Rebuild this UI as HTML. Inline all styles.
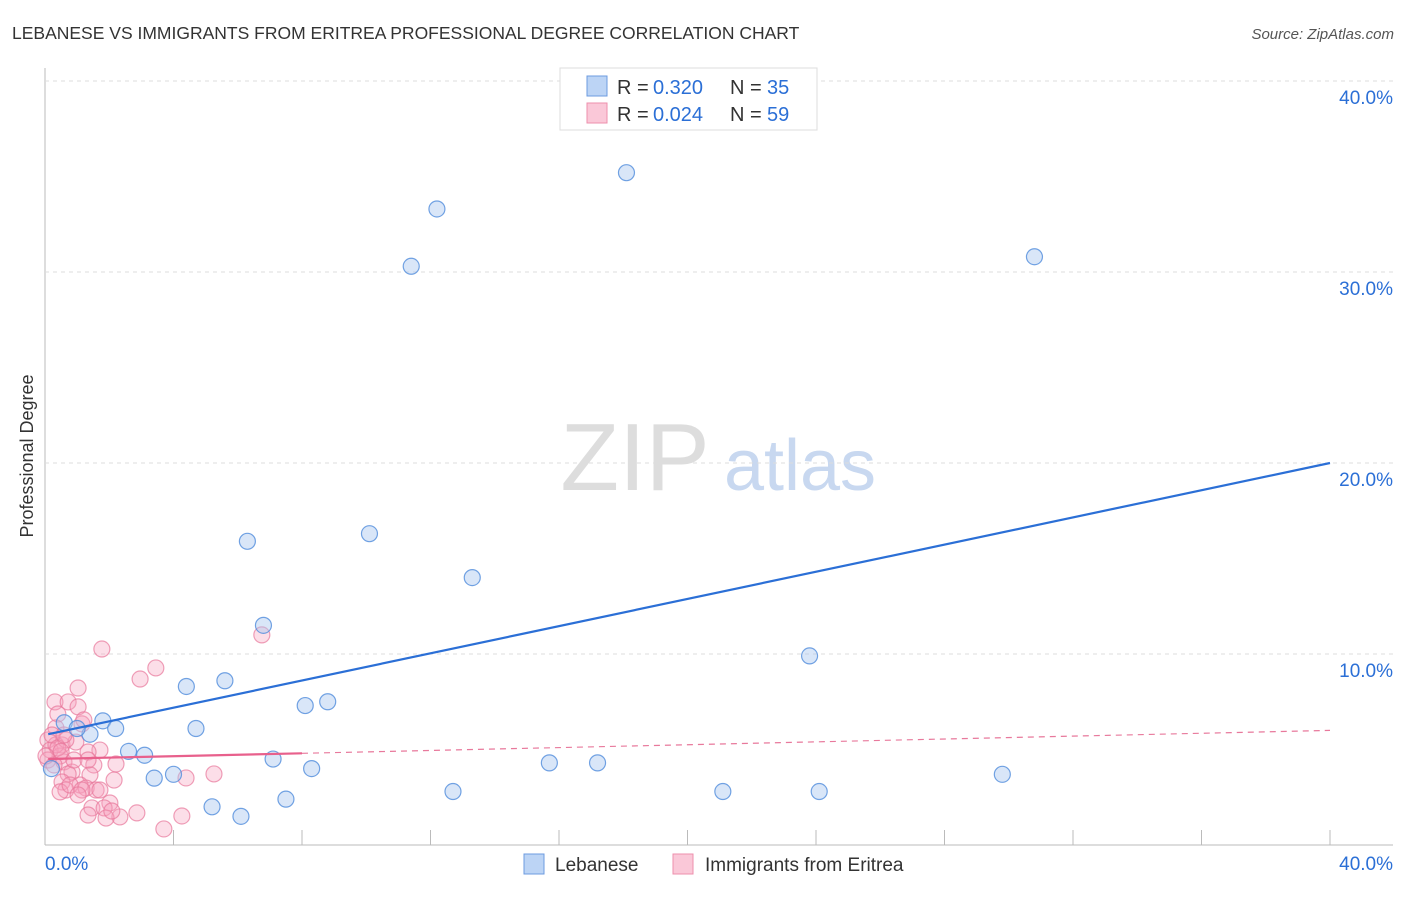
<!DOCTYPE html>
<html><head><meta charset="utf-8"><style>
body{margin:0;background:#fff;font-family:"Liberation Sans",sans-serif;}
svg text{font-family:"Liberation Sans",sans-serif;}
</style></head><body>
<svg id="c" width="1406" height="892">
<text x="12" y="39" font-size="17.5" fill="#333">LEBANESE VS IMMIGRANTS FROM ERITREA PROFESSIONAL DEGREE CORRELATION CHART</text>
<text x="1394" y="39" font-size="15" fill="#555" font-style="italic" text-anchor="end">Source: ZipAtlas.com</text>
<text x="33" y="456" font-size="18" fill="#333" text-anchor="middle" transform="rotate(-90 33 456)">Professional Degree</text>
<g><text x="635" y="490" font-size="96" fill="#ddd" font-family="Liberation Serif" text-anchor="middle">ZIP</text><text x="800" y="490" font-size="72" fill="#c8d8f0" text-anchor="middle">atlas</text></g>
<g id="grid"></g><g id="marks"></g>
<g>
<rect x="560" y="68" width="257" height="62" fill="#fff" stroke="#ddd"/>
<rect x="587" y="76" width="20" height="20" fill="#bcd4f5" stroke="#6c9be0"/>
<text x="617" y="94" font-size="20" fill="#333">R =</text><text x="653" y="94" font-size="20" fill="#2b6fd6">0.320</text>
<text x="730" y="94" font-size="20" fill="#333">N =</text><text x="767" y="94" font-size="20" fill="#2b6fd6">35</text>
<rect x="587" y="103" width="20" height="20" fill="#fac8d8" stroke="#ee8fac"/>
<text x="617" y="121" font-size="20" fill="#333">R =</text><text x="653" y="121" font-size="20" fill="#2b6fd6">0.024</text>
<text x="730" y="121" font-size="20" fill="#333">N =</text><text x="767" y="121" font-size="20" fill="#2b6fd6">59</text>
</g>
<g>
<rect x="524" y="854" width="20" height="20" fill="#bcd4f5" stroke="#6c9be0"/>
<text x="555" y="871" font-size="19" fill="#333">Lebanese</text>
<rect x="673" y="854" width="20" height="20" fill="#fac8d8" stroke="#ee8fac"/>
<text x="705" y="871" font-size="19" fill="#333">Immigrants from Eritrea</text>
</g>
</svg>
<script>
const yTicks=[10,20,30,40];
const yTickLabels=["10.0%","20.0%","30.0%","40.0%"];
const xTickLabels=["0.0%","40.0%"];
const blueX=[18.1,12.2,11.4,30.8,6.3,10.1,13.3,6.8,23.8,4.4,5.6,8.1,8.8,4.7,1.8,2.2,1.4,0.6,2.6,3.1,7.1,8.3,15.7,17.2,3.4,4.0,29.8,12.7,21.1,24.1,5.2,7.5,6.1,0.2,1.0];
const blueY=[35.2,33.3,30.3,30.8,15.9,16.3,14.0,11.5,9.9,8.3,8.6,7.3,7.5,6.1,6.5,6.1,5.8,6.4,4.9,4.7,4.5,4.0,4.3,4.3,3.5,3.7,3.7,2.8,2.8,2.8,2.0,2.4,1.5,4.0,6.1];
const pinkX=[1.77,3.45,2.96,1.03,6.75,0.31,0.72,1.03,0.40,1.15,0.34,0.09,0.53,0.96,1.71,1.34,0.16,0.47,0.09,0.59,2.21,1.52,0.84,1.40,0.72,0.53,1.09,1.28,2.15,4.39,5.26,0.65,0.47,1.46,2.02,1.84,2.33,1.34,1.90,2.86,3.70,4.26,0.34,0.65,0.22,1.21,0.90,1.59,0.78,0.28,0.40,1.15,2.08,1.03,0.59,1.34,1.71,0.03,0.5];
const pinkY=[10.26,9.27,8.69,8.22,11.0,7.49,7.49,7.23,6.86,6.34,6.13,5.50,5.24,5.39,4.97,4.87,4.97,4.66,4.45,4.35,4.24,4.19,3.82,3.67,3.72,3.30,3.14,2.98,3.40,3.51,3.72,2.88,2.78,1.94,2.20,1.94,1.47,1.57,1.41,1.68,0.84,1.52,5.24,5.50,5.76,6.55,4.45,2.88,3.14,4.19,5.08,2.88,1.78,2.62,5.76,4.45,2.88,4.66,4.9];
const blueTrend=[5.8,20.0];
const pinkTrend=[4.5,6.0];
const X=v=>45+v*1285/40, Y=v=>845-v*19.1;
const NS="http://www.w3.org/2000/svg";
function mk(tag,attrs,parent){const e=document.createElementNS(NS,tag);for(const k in attrs)e.setAttribute(k,attrs[k]);parent.appendChild(e);return e;}
const g=document.getElementById('grid'), m=document.getElementById('marks');
let e=mk('line',{x1:45,y1:68,x2:45,y2:845,stroke:'#bbb'},g);


e=mk('line',{x1:45,y1:845,x2:1393,y2:845,stroke:'#bbb'},g);


yTicks.forEach((t,i)=>{
 e=mk('line',{x1:45,y1:Y(t),x2:1393,y2:Y(t),stroke:'#ddd','stroke-dasharray':'4,4'},g);
 
 
 e=mk('text',{x:1393,y:Y(t)+23,'font-size':19,fill:'#2b6fd6','text-anchor':'end'},g);e.textContent=yTickLabels[i];
 
 
});
for(let i=0;i<=10;i++){
 e=mk('line',{x1:X(i*4),y1:830,x2:X(i*4),y2:845,stroke:'#bbb'},g);
 
 
}
e=mk('text',{x:45,y:870,'font-size':19,fill:'#2b6fd6'},g);e.textContent=xTickLabels[0];


e=mk('text',{x:1393,y:870,'font-size':19,fill:'#2b6fd6','text-anchor':'end'},g);e.textContent=xTickLabels[1];


pinkX.forEach((v,i)=>{
 e=mk('circle',{cx:X(v),cy:Y(pinkY[i]),r:8,fill:'rgba(245,160,188,0.35)',stroke:'rgba(232,120,155,0.7)','stroke-width':1.2},m);
 
 
});
blueX.forEach((v,i)=>{
 e=mk('circle',{cx:X(v),cy:Y(blueY[i]),r:8,fill:'rgba(170,200,240,0.45)',stroke:'rgba(80,140,220,0.8)','stroke-width':1.2},m);
 
 
});
e=mk('line',{x1:X(0.1),y1:Y(blueTrend[0]),x2:X(40),y2:Y(blueTrend[1]),stroke:'#2b6fd6','stroke-width':2.2},m);


const pk=x=>pinkTrend[0]+(pinkTrend[1]-pinkTrend[0])*x/40;
e=mk('line',{x1:X(8),y1:Y(pk(8)),x2:X(40),y2:Y(pk(40)),stroke:'#e8799c','stroke-width':1.2,'stroke-dasharray':'6,5'},m);


e=mk('line',{x1:X(0.1),y1:Y(pk(0.1)),x2:X(8),y2:Y(pk(8)),stroke:'#e8608c','stroke-width':2.2},m);


</script>
</body></html>
